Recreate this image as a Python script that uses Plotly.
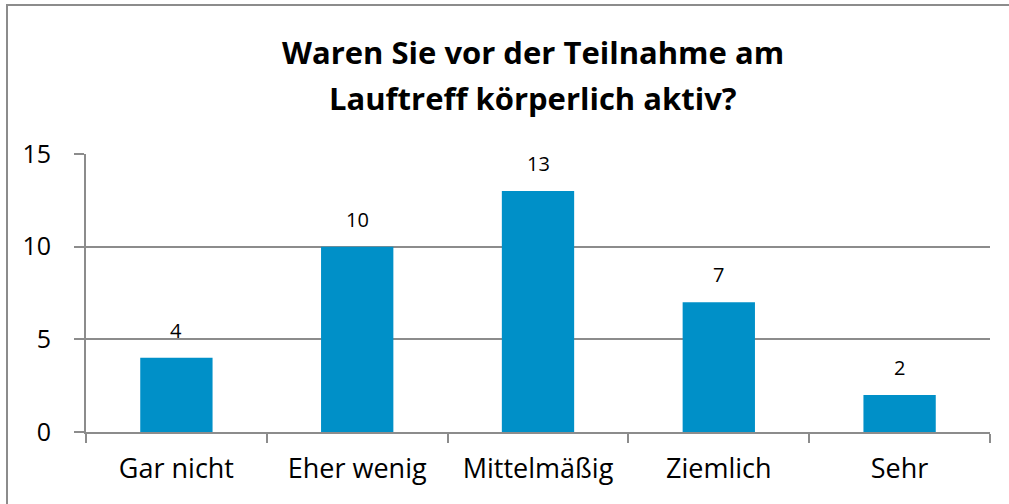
import plotly.graph_objects as go

categories = ["Gar nicht", "Eher wenig", "Mittelmäßig", "Ziemlich", "Sehr"]
values = [4, 10, 13, 7, 2]
y_ticks = [0, 5, 10, 15]
title_lines = ["Waren Sie vor der Teilnahme am", "Lauftreff körperlich aktiv?"]

W, H = 1009, 504
L, R, T, B = 86, 990, 154, 432
FONT = "Open Sans, sans-serif"
GRID = "#8c8c8c"

fig = go.Figure(go.Bar(
    x=categories, y=values, width=0.4,
    marker=dict(color="#0090C8", line=dict(width=0)),
    hoverinfo="skip",
))

for c, v in zip(categories, values):
    fig.add_annotation(x=c, y=v, text=str(v), showarrow=False, yanchor="bottom",
                       yshift=12, font=dict(family=FONT, size=20, color="#000"))

pw, ph = R - L, B - T
for line, ypix in zip(title_lines, [52, 98]):
    fig.add_annotation(xref="paper", yref="paper", x=(533 - L) / pw, y=(B - ypix) / ph,
                       xanchor="center", yanchor="middle", showarrow=False, text=line,
                       font=dict(family=FONT, size=31, color="#000", weight="bold"))

# outer chart frame (top and left edges visible)
fig.add_shape(type="line", xref="paper", yref="paper",
              x0=(6 - L) / pw, x1=(1009 - L) / pw, y0=(B - 5) / ph, y1=(B - 5) / ph,
              line=dict(color=GRID, width=2), layer="below")
fig.add_shape(type="line", xref="paper", yref="paper",
              x0=(7 - L) / pw, x1=(7 - L) / pw, y0=(B - 4) / ph, y1=(B - 504) / ph,
              line=dict(color=GRID, width=2), layer="below")

fig.update_layout(
    width=W, height=H,
    margin=dict(l=L, r=W - R, t=T, b=H - B, pad=0),
    paper_bgcolor="white", plot_bgcolor="white",
    showlegend=False,
    xaxis=dict(type="category", showline=True, linecolor=GRID, linewidth=2,
               ticks="outside", tickson="boundaries", ticklen=9, tickcolor=GRID, tickwidth=2,
               showgrid=False, ticklabelstandoff=12,
               tickfont=dict(family=FONT, size=27, color="#000")),
    yaxis=dict(range=[0, 15], tickvals=y_ticks, showline=True, linecolor=GRID, linewidth=2,
               ticks="outside", ticklen=10, tickcolor=GRID, tickwidth=2,
               showgrid=True, gridcolor=GRID, gridwidth=2, zeroline=False,
               ticklabelstandoff=18,
               tickfont=dict(family=FONT, size=25, color="#000")),
)

fig.write_html("out.html", config={"displayModeBar": False},
               post_script="document.body.style.margin='0';"
                           "document.documentElement.style.overflow='hidden';"
                           "document.body.style.overflow='hidden';")
